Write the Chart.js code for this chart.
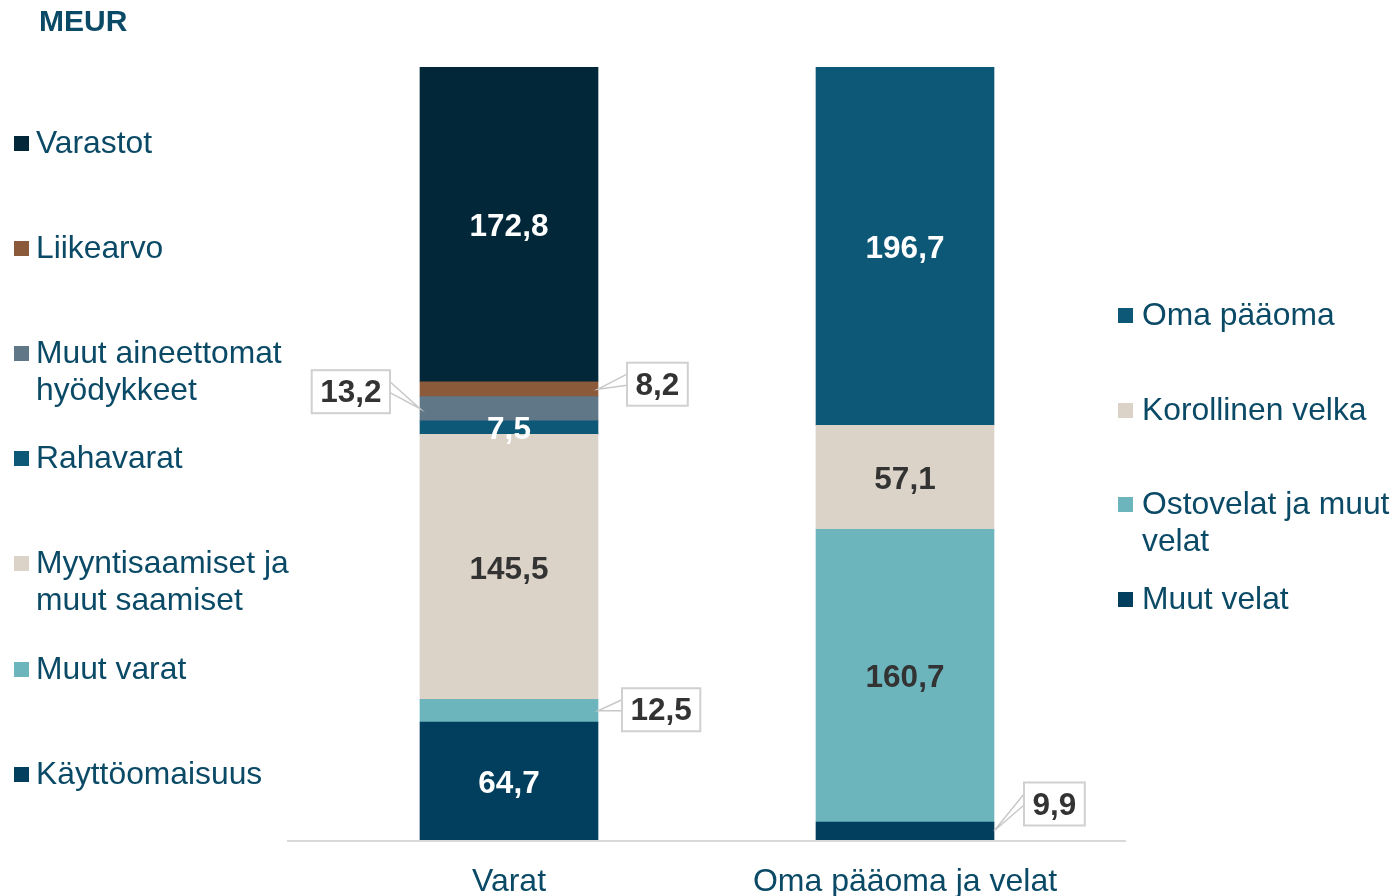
<!DOCTYPE html>
<html>
<head>
<meta charset="utf-8">
<script src="https://cdn.jsdelivr.net/npm/chart.js@4.4.1/dist/chart.umd.min.js"></script>
<style>
  html, body { margin: 0; padding: 0; background: #fff; }
  #wrap { position: relative; width: 1397px; height: 896px; overflow: hidden; }
  #chart { position: absolute; left: 0; top: 0; }
  .title { position: absolute; left: 39px; top: 4px; font: bold 30px "Liberation Sans", Arial, sans-serif; color: #0b4a66; }
  .leg { position: absolute; font: 31.8px "Liberation Sans", Arial, sans-serif; color: #0b4a66; line-height: 37px; white-space: pre-line; }
  .leg i { position: absolute; width: 15px; height: 15px; top: 12px; }
</style>
</head>
<body>
<div id="wrap">
  <canvas id="chart" width="1397" height="896"></canvas>
  <div class="title">MEUR</div>
  <div id="legends"></div>
</div>
<script>
// Kategoriat
const categories = ['Varat', 'Oma pääoma ja velat'];

// Varat, alhaalta ylös
const assetNames = ['Käyttöomaisuus', 'Muut varat', 'Myyntisaamiset ja\nmuut saamiset', 'Rahavarat', 'Muut aineettomat\nhyödykkeet', 'Liikearvo', 'Varastot'];
const assetValues = [64.7, 12.5, 145.5, 7.5, 13.2, 8.2, 172.8];
const assetColors = ['#023f5e', '#6db5bd', '#dbd3c7', '#0e5877', '#5f7787', '#8b5a3b', '#022739'];

// Oma pääoma ja velat, alhaalta ylös
const liabNames = ['Muut velat', 'Ostovelat ja muut\nvelat', 'Korollinen velka', 'Oma pääoma'];
const liabValues = [9.9, 160.7, 57.1, 196.7];
const liabColors = ['#023f5e', '#6db5bd', '#dbd3c7', '#0e5877'];

const darkText = '#333333';
const lightBars = ['#dbd3c7', '#6db5bd'];

// Selitteet (vasen ja oikea), ylhäältä alas
const leftLegendY = [775, 670, 564, 459, 354, 249, 144];
const rightLegendY = [600, 505, 411, 316];

function fmt(v) { return v.toFixed(1).replace('.', ','); }

let datasets = [];
assetNames.forEach((n, i) => {
    datasets.push({label: n, data: [assetValues[i], null], backgroundColor: assetColors[i]});
});
liabNames.forEach((n, i) => {
    datasets.push({label: n, data: [null, liabValues[i]], backgroundColor: liabColors[i]});
});

// Selitteet HTML:nä
let legHtml = '';
assetNames.forEach((n, i) => {
    legHtml += `<div class="leg" style="left:14px;top:${leftLegendY[i] - 20}px;padding-left:22px"><i style="left:0;background:${assetColors[i]}"></i>${n}</div>`;
});
liabNames.forEach((n, i) => {
    legHtml += `<div class="leg" style="left:1118px;top:${rightLegendY[i] - 20}px;padding-left:24px"><i style="left:0;background:${liabColors[i]}"></i>${n}</div>`;
});
document.getElementById('legends').innerHTML = legHtml;

// Laatikkomerkinnät: datasetin indeksi -> sijainti
const callouts = {
    4: {side: 'left', dx: 30, dy: -17},
    5: {side: 'right', dx: 29, dy: -5},
    1: {side: 'right', dx: 24, dy: -1},
    7: {side: 'right', dx: 30, dy: -27}
};

const axisLine = {
    id: 'axisLine',
    afterDatasetsDraw(chart) {
        const {ctx, chartArea} = chart;
        ctx.save();
        ctx.strokeStyle = '#d9d9d9';
        ctx.lineWidth = 2;
        ctx.beginPath();
        ctx.moveTo(chartArea.left - 24, chartArea.bottom + 1);
        ctx.lineTo(chartArea.right + 23, chartArea.bottom + 1);
        ctx.stroke();
        ctx.restore();
    }
};

const valueLabels = {
    id: 'valueLabels',
    afterDatasetsDraw(chart) {
        const ctx = chart.ctx;
        ctx.save();
        ctx.font = 'bold 31.5px "Liberation Sans", Arial, sans-serif';
        ctx.textAlign = 'center';
        ctx.textBaseline = 'middle';
        chart.data.datasets.forEach((ds, di) => {
            const meta = chart.getDatasetMeta(di);
            ds.data.forEach((v, i) => {
                if (v === null) return;
                const bar = meta.data[i];
                const cy = (bar.y + bar.base) / 2;
                const txt = fmt(v);
                const c = callouts[di];
                if (!c) {
                    ctx.fillStyle = lightBars.includes(ds.backgroundColor) ? darkText : '#ffffff';
                    ctx.fillText(txt, bar.x, cy + 3);
                    return;
                }
                const w = ctx.measureText(txt).width + 17;
                const h = 43;
                const edge = c.side === 'left' ? bar.x - bar.width / 2 : bar.x + bar.width / 2;
                const bx = c.side === 'left' ? edge - c.dx - w : edge + c.dx;
                const by = cy + c.dy - h / 2;
                const near = c.side === 'left' ? bx + w : bx;
                // osoitin
                ctx.strokeStyle = '#c8c8c8';
                ctx.lineWidth = 1.5;
                ctx.beginPath();
                ctx.moveTo(near, by + h / 2 - 10);
                ctx.lineTo(edge, cy);
                ctx.lineTo(near, by + h / 2 + 1);
                ctx.stroke();
                // laatikko
                ctx.fillStyle = '#ffffff';
                ctx.fillRect(bx, by, w, h);
                ctx.lineWidth = 2;
                ctx.strokeStyle = '#d0d0d0';
                ctx.strokeRect(bx, by, w, h);
                ctx.fillStyle = darkText;
                ctx.fillText(txt, bx + w / 2, by + h / 2 + 2);
            });
        });
        ctx.restore();
    }
};

const total = Math.max(assetValues.reduce((a, b) => a + b, 0), liabValues.reduce((a, b) => a + b, 0));

new Chart(document.getElementById('chart'), {
    type: 'bar',
    data: {labels: categories, datasets},
    options: {
        responsive: false,
        animation: false,
        layout: {padding: {top: 67, left: 311, right: 294, bottom: 0}},
        plugins: {legend: {display: false}, tooltip: {enabled: false}},
        datasets: {bar: {barThickness: 178, borderWidth: 0}},
        scales: {
            x: {
                stacked: true,
                grid: {display: false},
                border: {display: false},
                afterFit(scale) { scale.height = 56; },
                ticks: {
                    color: '#0b4a66',
                    padding: 15,
                    font: {family: '"Liberation Sans Narrow", "Liberation Sans", Arial', size: 32}
                }
            },
            y: {stacked: true, display: false, min: 0, max: total}
        }
    },
    plugins: [axisLine, valueLabels]
});
</script>
</body>
</html>
